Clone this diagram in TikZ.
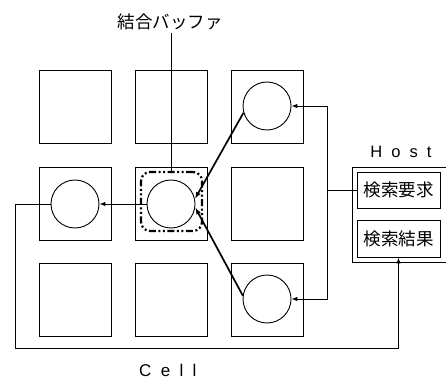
\documentclass[tikz,border=0pt]{standalone}
\usepackage{fontspec}
\newfontfamily\jp{Noto Sans CJK JP}
\newfontfamily\lat[LetterSpace=55]{Liberation Sans}
\usetikzlibrary{arrows.meta}
\tikzset{
  cellbox/.style={draw, line width=0.9pt, minimum width=72pt, minimum height=73pt, inner sep=0pt},
  pe/.style={draw, circle, line width=0.9pt, minimum size=48pt, inner sep=0pt},
  arr/.style={line width=0.9pt, -{Latex[length=6pt,width=4.5pt]}},
  thickarr/.style={line width=1.7pt, -{Latex[length=7pt,width=5pt]}},
  wire/.style={line width=0.9pt},
  hostbox/.style={draw, line width=0.9pt, minimum width=83pt, minimum height=36pt, inner sep=0pt, font=\jp\fontsize{17.5}{17.5}\selectfont},
  lbl/.style={inner sep=0pt},
}
\begin{document}
\begin{tikzpicture}[x=1pt, y=-1pt]
\useasboundingbox (0,0) rectangle (446,379);
% cells
\node[cellbox] (s11) at (75,107) {};
\node[cellbox] (s12) at (171,107) {};
\node[cellbox] (s13) at (267,107) {};
\node[cellbox] (s21) at (75,203.5) {};
\node[cellbox] (s22) at (171,203.5) {};
\node[cellbox] (s23) at (267,203.5) {};
\node[cellbox] (s31) at (75,299.5) {};
\node[cellbox] (s32) at (171,299.5) {};
\node[cellbox] (s33) at (267,299.5) {};
% processors
\node[pe] (c13) at (267,106) {};
\node[pe] (c21) at (75,204) {};
\node[pe] (c22) at (171,204) {};
\node[pe] (c33) at (267,299) {};
% coupling buffer
\node[draw, rounded corners=9pt, line width=2.2pt, minimum width=61pt, minimum height=59pt,
  dash pattern=on 7pt off 2.5pt on 2pt off 2.5pt on 2pt off 2.5pt] (buf) at (171.5,201.5) {};
\node[lbl, font=\jp\fontsize{17.5}{17.5}\selectfont] (buflbl) at (170,22) {結合バッファ};
\draw[wire, shorten <=3pt] (buflbl.south -| buf.north) -- (buf.north);
% host
\draw[line width=0.9pt] (446,167) -- (352,167) -- (352,262) -- (446,262);
\node[hostbox] (req) at (398.5,190) {検索要求};
\node[hostbox, minimum height=37pt] (res) at (398.5,238.5) {検索結果};
\node[lbl, font=\lat\fontsize{16.5}{16.5}\selectfont] (hostlbl) at (401,152) {Host};
\node[lbl, font=\lat\fontsize{17}{17}\selectfont, anchor=west] (celllbl) at (139,370) {Cell};
% connectors
\coordinate (bus) at (327,190);
\draw[wire] (req.west) -- (bus);
\draw[arr] (bus) |- (c13.east);
\draw[arr] (bus) |- (c33.east);
\draw[thickarr] (c13.196) -- (c22.12);
\draw[thickarr] (c33.172) -- (c22.-8);
\draw[arr] (c22.west) -- (c21.east);
\coordinate (lc) at (15,204);
\coordinate (bc) at (15,348);
\draw[arr] (c21.west) -- (lc) -- (bc) -| (res.south);
\end{tikzpicture}
\end{document}
